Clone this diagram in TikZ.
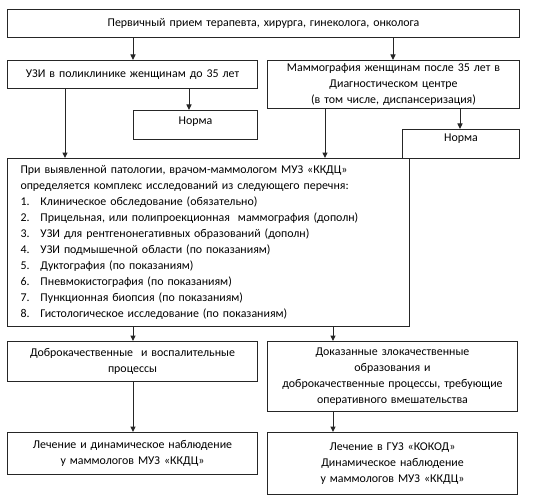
\documentclass[tikz,border=0pt]{standalone}
\usepackage{fontspec}
\setmainfont{Carlito}
\usetikzlibrary{arrows.meta}
\newcommand{\itm}[2]{\makebox[20pt][l]{#1.}#2}

\begin{document}
\begin{tikzpicture}[x=1pt, y=-1pt, line width=1pt,
	box/.style={draw=black!85, anchor=north west, inner xsep=4pt, inner ysep=0pt, align=center, font=\fontsize{11.9}{16}\selectfont},
	arr/.style={draw=black!85, -{Triangle[length=5.5pt,width=5pt]}}]
		\useasboundingbox (0,0) rectangle (546,500);
		
		%boxes
		\node[box, text width=504pt, minimum height=28pt] (first) at (7,9) {Первичный прием терапевта, хирурга,\ гинеколога, онколога};
		\node[box, text width=242pt, minimum height=28pt] (uzi) at (7,60) {УЗИ в поликлинике женщинам до 35 лет};
		\node[box, text width=244pt, minimum height=48pt] (mammo) at (267,60) {Маммография женщинам после\ 35 лет в\\ Диагностическом центре\\ (в том числе, диспансеризация)};
		\node[box, text width=116pt, inner ysep=3pt, text height=11pt, text depth=12pt] (norm1) at (133,110) {Норма};
		\node[box, text width=109pt, inner ysep=3pt, text height=9pt, text depth=14pt] (norm2) at (402,129) {Норма};
		\node[box, text width=376pt, inner xsep=13pt, minimum height=168pt, align=left] (big) at (7,158) {При выявленной патологии, врачом-маммологом\ МУЗ «ККДЦ»\\
			определяется\ комплекс исследований из следующего перечня:\\
			\itm{1}{Клиническое обследование\ (обязательно)}\\
			\itm{2}{Прицельная, или полипроекционная\ \ маммография (дополн)}\\
			\itm{3}{УЗИ для рентгенонегативных\ образований (дополн)}\\
			\itm{4}{УЗИ подмышечной\ области\ (по показаниям)}\\
			\itm{5}{Дуктография\ (по показаниям)}\\
			\itm{6}{Пневмокистография (по показаниям)}\\
			\itm{7}{Пункционная биопсия (по показаниям)}\\
			\itm{8}{Гистологическое\ исследование (по показаниям)}};
		\node[box, text width=242pt, minimum height=40pt] (benign) at (7,341) {Доброкачественные\ \ и воспалительные\\ процессы};
		\node[box, text width=242pt, minimum height=70pt] (malign) at (267,341) {Доказанные злокачественные\\ образования\ и\\ доброкачественные\ процессы, требующие\\ оперативного\ вмешательства};
		\node[box, text width=242pt, minimum height=42pt] (treat1) at (7,432) {Лечение и динамическое наблюдение\\ у маммологов\ МУЗ\ «ККДЦ»};
		\node[box, text width=242pt, minimum height=62pt] (treat2) at (267,432) {Лечение в ГУЗ\ «КОКОД»\\ Динамическое наблюдение\\ у маммологов\ МУЗ\ «ККДЦ»};
		
		%arrow columns
		\coordinate (colA) at (133,0);
		\coordinate (colB) at (393,0);
		\coordinate (colC) at (65,0);
		\coordinate (colD) at (189,0);
		\coordinate (colE) at (325,0);
		\coordinate (colF) at (460,0);
		\coordinate (colG) at (333,0);
		
		\draw[arr] (first.south -| colA) -- (uzi.north -| colA);
		\draw[arr] (first.south -| colB) -- (mammo.north -| colB);
		\draw[arr] (uzi.south -| colD) -- (norm1.north -| colD);
		\draw[arr] (uzi.south -| colC) -- (big.north -| colC);
		\draw[arr] (mammo.south -| colE) -- (big.north -| colE);
		\draw[arr] (mammo.south -| colF) -- (norm2.north -| colF);
		\draw[arr] (big.south -| colA) -- (benign.north -| colA);
		\draw[arr] (big.south -| colG) -- (malign.north -| colG);
		\draw[arr] (benign.south -| colA) -- (treat1.north -| colA);
		\draw[arr] (malign.south -| colG) -- (treat2.north -| colG);
\end{tikzpicture}
\end{document}
